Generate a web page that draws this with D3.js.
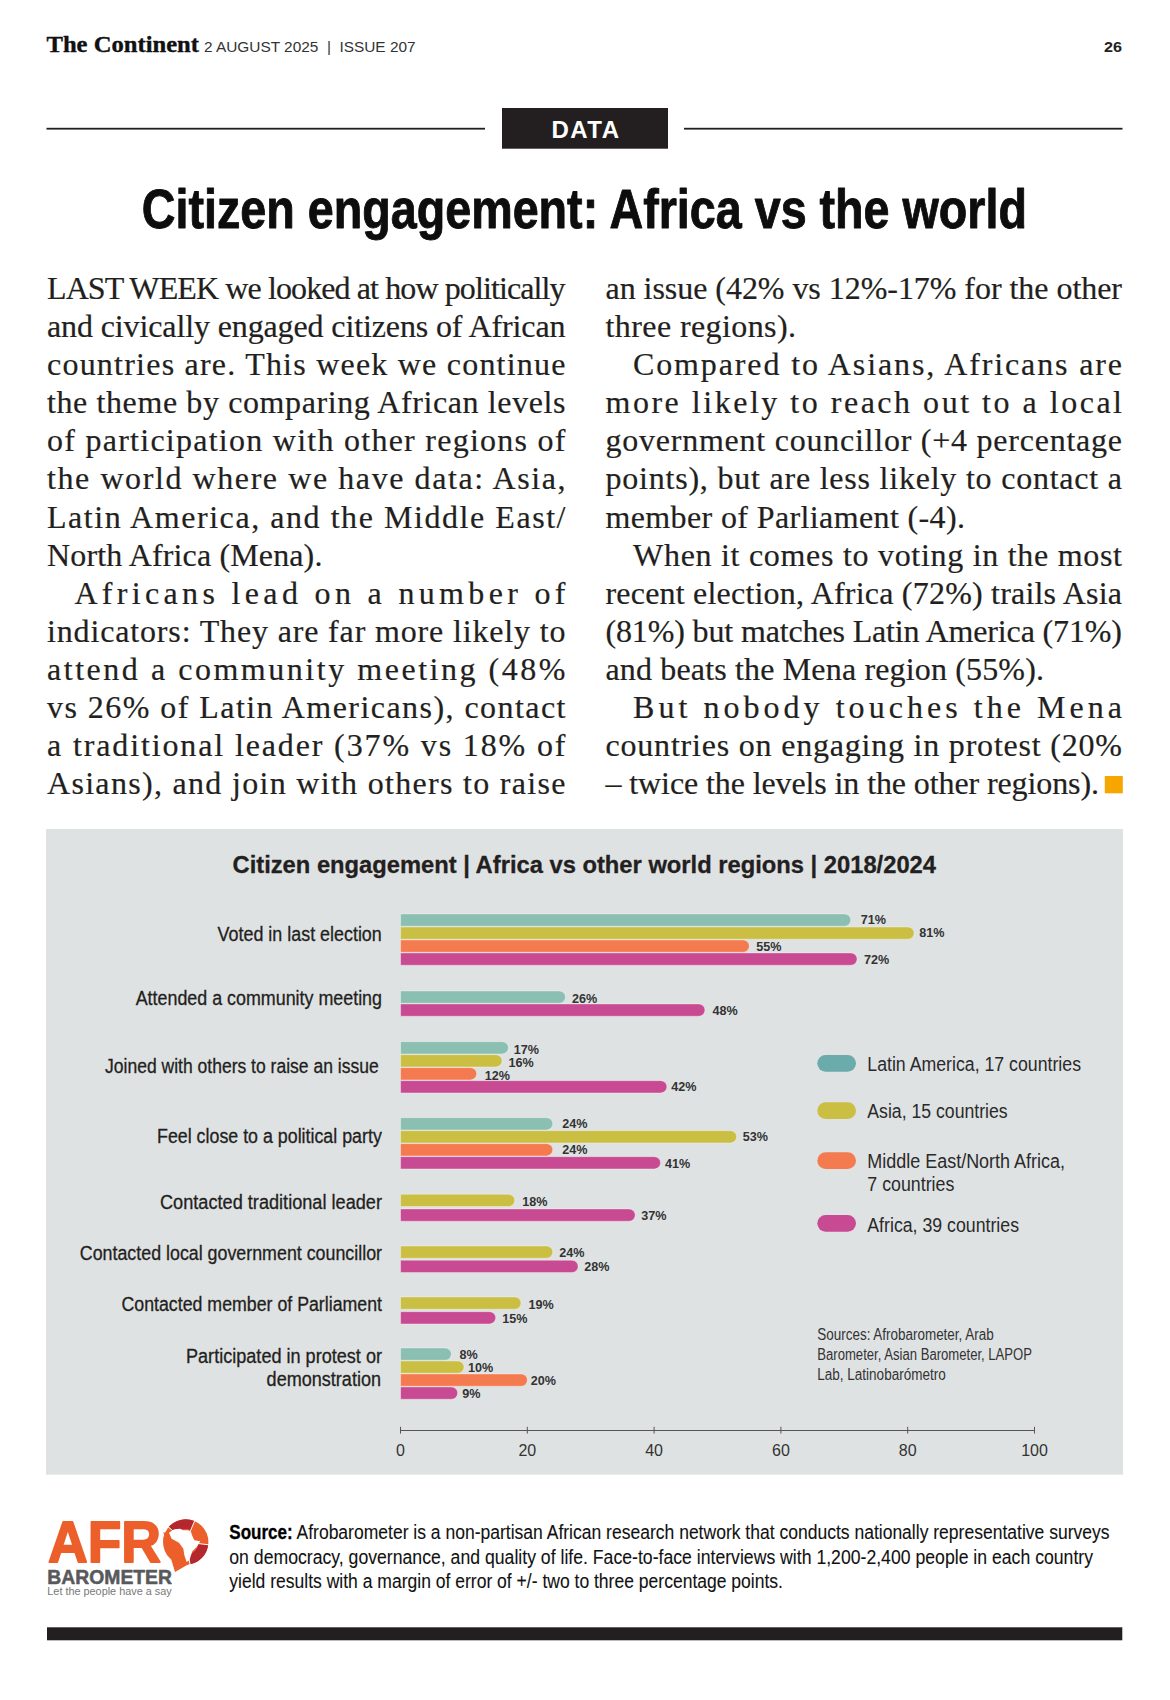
<!DOCTYPE html>
<html><head><meta charset="utf-8">
<script src="https://cdn.jsdelivr.net/npm/d3@7/dist/d3.min.js"></script>
<style>html,body{margin:0;padding:0;background:#fff}svg{display:block}</style></head>
<body><svg id="page" width="1170" height="1700"></svg>
<script>
// ---------- chart data ----------
const categories = [
  "Voted in last election","Attended a community meeting","Joined with others to raise an issue",
  "Feel close to a political party","Contacted traditional leader",
  "Contacted local government councillor","Contacted member of Parliament",
  "Participated in protest or demonstration"];
const seriesNames = ["Latin America, 17 countries","Asia, 15 countries","Middle East/North Africa, 7 countries","Africa, 39 countries"];
const latinAmerica = [71,26,17,24,null,null,null,8];
const asia         = [81,null,16,53,18,24,19,10];
const mena         = [55,null,12,24,null,null,null,20];
const africa       = [72,48,42,41,37,28,15,9];
const axisTicks    = [0,20,40,60,80,100];

// ---------- layout and style ----------
const INK="#231f20", SANS="'Liberation Sans',Arial,sans-serif", NARROW="'Liberation Sans Narrow','Liberation Sans',sans-serif", SERIF="'Liberation Serif',serif";
const barColors=["#8bbfb1","#cabf42","#f47a50","#c84a92"];
const legendColors=["#6babab","#cabf42","#f47a50","#c84a92"];
const rowTops=[914,991,1041.7,1117.7,1194.3,1246,1297,1348];
const rowPitch=[13,13,13,13,14.7,14.3,14.7,13];
const BAR_H=12.2, BAR_SHIFT=0.6;
// per-label nudge of value labels (dx from bar end, dy from bar centre), as set by hand in the original
const labelNudges=[
 [[10,-0.5],[5,-0.3],[7,0.6],[7,0.6]],
 [[6.5,1.8],null,null,[7.5,0.3]],
 [[5.5,1.2],[6.5,1.8],[8,1.2],[4.5,0]],
 [[9.5,0],[6.2,0],[9.5,0],[4.5,0.3]],
 [null,[7.5,0.8],null,[6,0]],
 [null,[6.5,0.5],null,[6.2,0.5]],
 [null,[7.5,1.2],null,[6.5,0.2]],
 [[8.2,0],[4,0],[3.3,0],[4.5,0]]];

const svg=d3.select("#page");
// text with an exact fitted width; x0..x1 is the measured extent
function txt(s,x0,x1,base,size,opt={}){
  const f=opt.fill||INK;
  const t=(opt.parent||svg).append("text").attr("x",x0).attr("y",base)
    .attr("font-family",opt.font||SANS).attr("font-size",size)
    .attr("font-weight",opt.weight||400).attr("fill",f).text(s);
  if(opt.thick) t.attr("stroke",f).attr("stroke-width",opt.thick).attr("stroke-linejoin","round");
  if(x1!=null) t.attr("textLength",x1-x0).attr("lengthAdjust",opt.adjust||"spacingAndGlyphs");
  return t;
}

// ---------- page header ----------
txt("The Continent",46.5,199,51.7,23,{font:SERIF,weight:700,fill:"#111",thick:0.35});
txt("2 AUGUST 2025  |  ISSUE 207",204,415.6,52,15.5,{fill:"#333"}).attr("xml:space","preserve");
txt("26",1104,1122,52,15.5,{weight:700,fill:"#222"});
svg.append("rect").attr("x",46.5).attr("y",127.8).attr("width",438.5).attr("height",1.8).attr("fill",INK);
svg.append("rect").attr("x",684).attr("y",127.8).attr("width",438.5).attr("height",1.8).attr("fill",INK);
svg.append("rect").attr("x",502).attr("y",108).attr("width",166).attr("height",40.7).attr("fill",INK);
txt("DATA",551.5,619,138,24,{font:NARROW,weight:700,fill:"#fff",adjust:"spacing"});
txt("Citizen engagement: Africa vs the world",141.8,1027,227.7,55,{font:NARROW,weight:700,fill:"#0d0d0d",thick:0.9});

// ---------- body copy ----------
const BASE0=299.2, LEAD=38.05, C1=[47,565.5], C2=[605.5,1122], IND1=74.4, IND2=633;
const col1=[["LAST WEEK we looked at how politically"],["and civically engaged citizens of African"],["countries are. This week we continue"],["the theme by comparing African levels"],["of participation with other regions of"],["the world where we have data: Asia,"],["Latin America, and the Middle East/"],["North Africa (Mena).",322.4],["Africans lead on a number of",null,1],["indicators: They are far more likely to"],["attend a community meeting (48%"],["vs 26% of Latin Americans), contact"],["a traditional leader (37% vs 18% of"],["Asians), and join with others to raise"]];
const col2=[["an issue (42% vs 12%-17% for the other"],["three regions).",796],["Compared to Asians, Africans are",null,1],["more likely to reach out to a local"],["government councillor (+4 percentage"],["points), but are less likely to contact a"],["member of Parliament (-4).",965],["When it comes to voting in the most",null,1],["recent election, Africa (72%) trails Asia"],["(81%) but matches Latin America (71%)"],["and beats the Mena region (55%).",1044],["But nobody touches the Mena",null,1],["countries on engaging in protest (20%"],["– twice the levels in the other regions).",1099]];
[[col1,C1,IND1],[col2,C2,IND2]].forEach(([lines,c,ind])=>lines.forEach((l,i)=>{
  txt(l[0],l[2]?ind:c[0],l[1]||c[1],BASE0+LEAD*i,32,{font:SERIF,adjust:"spacing",fill:"#231f20",thick:0.2});
}));
svg.append("rect").attr("x",1104.8).attr("y",776).attr("width",18).attr("height",17.3).attr("fill","#f7a600");

// ---------- chart panel ----------
svg.append("rect").attr("x",46).attr("y",829).attr("width",1077).attr("height",645.7).attr("fill","#dfe2e3");
txt("Citizen engagement | Africa vs other world regions | 2018/2024",232.5,936,873.3,24,{font:NARROW,weight:700,thick:0.3});

const x=d3.scaleLinear().domain([0,100]).range([400,1034]);
const rowTop=d3.scaleOrdinal().domain(categories).range(rowTops);
const pitch=d3.scaleOrdinal().domain(categories).range(rowPitch);
const color=d3.scaleOrdinal().domain(seriesNames).range(barColors);
const allSeries=[latinAmerica,asia,mena,africa];

const bars=[];
categories.forEach((c,ci)=>{
  let slot=0;
  allSeries.forEach((vals,si)=>{
    if(vals[ci]==null) return;
    bars.push({c,ci,si,slot:slot++,v:vals[ci],name:seriesNames[si]});
  });
});
const barY=d=>rowTop(d.c)+pitch(d.c)*d.slot;
// square start, fully rounded end
function barPath(d){
  const x0=x(0),x1=x(d.v),y0=barY(d),r=BAR_H/2;
  return `M${x0},${y0}H${x1-r}A${r},${r} 0 0 1 ${x1-r},${y0+BAR_H}H${x0}Z`;
}
const plot=svg.append("g").attr("transform",`translate(${BAR_SHIFT},0)`);
plot.append("g").selectAll("path").data(bars).join("path")
  .attr("d",barPath).attr("fill",d=>color(d.name))
  .attr("stroke","#fff").attr("stroke-opacity",0.55).attr("stroke-width",0.6);
plot.append("g").selectAll("text").data(bars).join("text")
  .attr("x",d=>x(d.v)+labelNudges[d.ci][d.si][0])
  .attr("y",d=>barY(d)+BAR_H/2+labelNudges[d.ci][d.si][1]+4.5)
  .attr("font-family",SANS).attr("font-size",12.6).attr("font-weight",700).attr("fill","#333")
  .text(d=>d.v+"%");

// category labels: [text, x0, x1, baseline]
const catLabels=[
 [categories[0],217.6,381.8,940.7],[categories[1],135.7,382,1005],[categories[2],105,378.7,1072.7],
 [categories[3],157,381.8,1143.3],[categories[4],160,382,1209],[categories[5],79.8,382,1260],
 [categories[6],121.5,382,1311],["Participated in protest or",186,382,1363.3],["demonstration",266.6,381,1386]];
catLabels.forEach(l=>txt(l[0],l[1],l[2],l[3],20,{font:NARROW,fill:"#231f20",thick:0.3}));

// axis
const axisG=svg.append("g").attr("transform","translate(0,1430)")
  .call(d3.axisBottom(x).tickValues(axisTicks).tickSize(3.4).tickSizeOuter(0).tickPadding(0));
axisG.select(".domain").attr("stroke","#555").attr("stroke-width",1.1).attr("d",`M${x(0)},0.5H${x(100)}`);
axisG.selectAll(".tick line").attr("y1",-3.2).attr("y2",3.6).attr("stroke","#555");
axisG.selectAll(".tick text").attr("y",25.5).attr("dy",0).attr("font-family",SANS).attr("font-size",16).attr("fill","#333");

// legend
const legendRows=[
 {y:1055,lines:[["Latin America, 17 countries",1081,1071]]},
 {y:1102.3,lines:[["Asia, 15 countries",1007.7,1118.3]]},
 {y:1152.3,lines:[["Middle East/North Africa,",1065,1168],["7 countries",954.3,1191.3]]},
 {y:1215,lines:[["Africa, 39 countries",1019,1232]]}];
legendRows.forEach((r,i)=>{
  svg.append("rect").attr("x",817.3).attr("y",r.y).attr("width",38.7).attr("height",16.7).attr("rx",8.35).attr("fill",legendColors[i]);
  r.lines.forEach(l=>txt(l[0],867.3,l[1],l[2],20,{font:NARROW,fill:"#2a2a2a"}));
});
[["Sources: Afrobarometer, Arab",993.7,1340],["Barometer, Asian Barometer, LAPOP",1032,1360],["Lab, Latinobarómetro",945.7,1380]]
 .forEach(l=>txt(l[0],817.3,l[1],l[2],16,{font:NARROW,fill:"#333"}));

// ---------- logo ----------
const LOGO_O="#ec5f2a", LOGO_R="#b5272e";
txt("AFR",48,161,1561.8,58,{weight:700,fill:LOGO_O,thick:1.8});
const cx=185.7,cy=1542,R=22.7, deg=Math.PI/180;
const lx=v=>155+v/3, ly=v=>1512+v/3;
const logoPoly=pts=>"M"+pts.map(p=>lx(p[0])+","+ly(p[1])).join("L")+"Z";
svg.append("circle").attr("cx",cx).attr("cy",cy).attr("r",R).attr("fill",LOGO_O);
svg.append("path").attr("fill",LOGO_O).attr("d",logoPoly([[45,130],[60,180],[108,152]]));
const arc=d3.arc();
[[-49,23],[97,169]].forEach(a=>svg.append("path").attr("transform",`translate(${cx},${cy})`)
  .attr("d",arc({innerRadius:13,outerRadius:R,startAngle:a[0]*deg,endAngle:a[1]*deg})).attr("fill",LOGO_R));
[-49,23,97,169].forEach(a=>svg.append("line").attr("x1",cx).attr("y1",cy)
  .attr("x2",cx+(R+1)*Math.sin(a*deg)).attr("y2",cy-(R+1)*Math.cos(a*deg)).attr("stroke","#fff").attr("stroke-width",1));
svg.append("path").attr("fill",LOGO_O).attr("d",logoPoly([[25,60],[50,70],[90,90],[85,150],[45,130]]));
svg.append("path").attr("fill","#fff").attr("d",logoPoly([[42,62],[58,52],[75,50],[85,55],[100,55],[108,60],[112,72],[118,85],[136,88],[125,105],[112,118],[103,145],[95,150],[88,130],[85,110],[72,92],[50,80]]));
txt("BAROMETER",47.3,172,1584,19.5,{weight:700,fill:"#58595b",thick:0.5});
txt("Let the people have a say",47.3,171.7,1595,11.5,{fill:"#77787b"});

// ---------- footer ----------
txt("Source:",229.3,292.7,1539.3,20,{font:NARROW,weight:700,fill:"#000",thick:0.3});
txt("Afrobarometer is a non-partisan African research network that conducts nationally representative surveys",296.5,1109.5,1539.3,20,{font:NARROW,fill:"#111",thick:0.1});
txt("on democracy, governance, and quality of life. Face-to-face interviews with 1,200-2,400 people in each country",229.3,1093,1564,20,{font:NARROW,fill:"#111",thick:0.1});
txt("yield results with a margin of error of +/- two to three percentage points.",229.3,783,1587.7,20,{font:NARROW,fill:"#111",thick:0.1});
svg.append("rect").attr("x",47).attr("y",1627.3).attr("width",1075.3).attr("height",13).attr("fill",INK);
</script></body></html>
